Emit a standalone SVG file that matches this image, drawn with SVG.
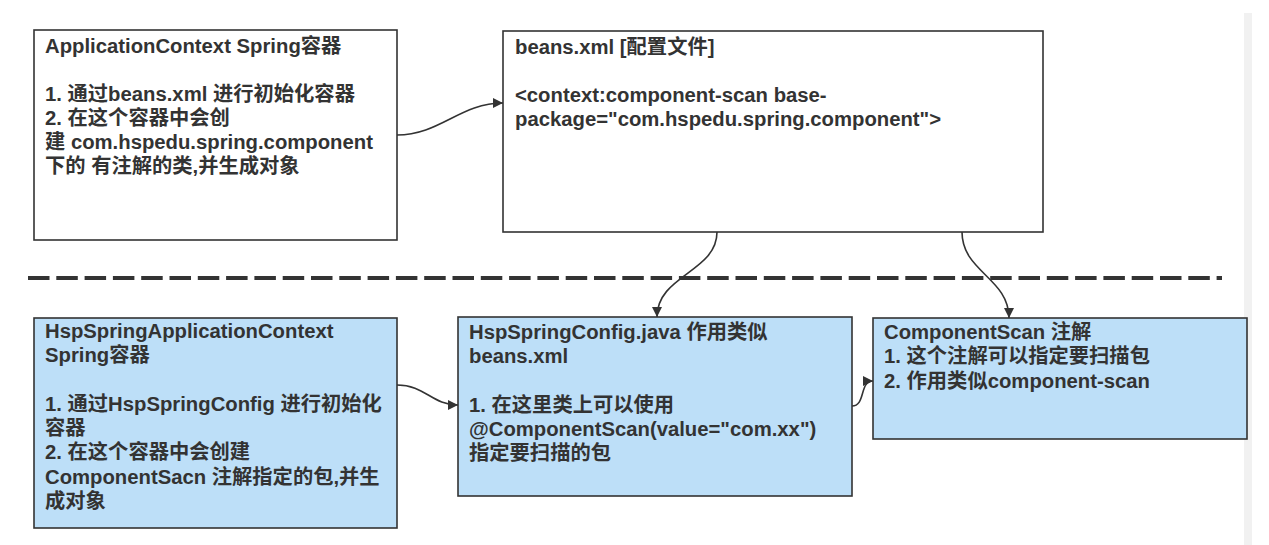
<svg xmlns="http://www.w3.org/2000/svg" width="1269" height="545" viewBox="0 0 1269 545">
<style>
.box{stroke:#333;stroke-width:1.6}
.w{fill:#fff}
.b{fill:#bddff8}
text{font-family:"Liberation Sans","Noto Sans CJK SC",sans-serif;font-weight:bold;font-size:20.3px;fill:#333}
.conn{fill:none;stroke:#333;stroke-width:1.6}
</style>
<defs>
<marker id="arr" viewBox="0 0 10 10" refX="10" refY="5" markerWidth="10" markerHeight="10" markerUnits="userSpaceOnUse" orient="auto">
<path d="M0,0 L10,5 L0,10 Z" fill="#333"/>
</marker>
</defs>
<rect width="1269" height="545" fill="#fff"/>
<rect x="1244" y="13" width="8" height="532" fill="#f1f1f1"/>
<line x1="28" y1="278" x2="1222" y2="278" stroke="#333" stroke-width="4" stroke-dasharray="21.5 6.8"/>
<g id="n1">
<rect class="box w" x="34" y="30" width="363" height="210"/>
<text x="45" y="53">ApplicationContext Spring容器</text>
<text x="45" y="101">1. 通过beans.xml 进行初始化容器</text>
<text x="45" y="125">2. 在这个容器中会创</text>
<text x="45" y="149">建 com.hspedu.spring.component</text>
<text x="45" y="173">下的 有注解的类,并生成对象</text>
</g>
<g id="n2">
<rect class="box w" x="503" y="31" width="540" height="201"/>
<text x="515" y="54">beans.xml [配置文件]</text>
<text x="515" y="102">&lt;context:component-scan base-</text>
<text x="515" y="126">package="com.hspedu.spring.component"&gt;</text>
</g>
<g id="n3">
<rect class="box b" x="34" y="318" width="363" height="210"/>
<text x="45" y="338">HspSpringApplicationContext</text>
<text x="45" y="362">Spring容器</text>
<text x="45" y="411">1. 通过HspSpringConfig 进行初始化</text>
<text x="45" y="435">容器</text>
<text x="45" y="459">2. 在这个容器中会创建</text>
<text x="45" y="484">ComponentSacn 注解指定的包,并生</text>
<text x="45" y="508">成对象</text>
</g>
<g id="n4">
<rect class="box b" x="458" y="317" width="394" height="179"/>
<text x="469" y="339">HspSpringConfig.java 作用类似</text>
<text x="469" y="363">beans.xml</text>
<text x="469" y="412">1. 在这里类上可以使用</text>
<text x="469" y="436">@ComponentScan(value="com.xx")</text>
<text x="469" y="460">指定要扫描的包</text>
</g>
<g id="n5">
<rect class="box b" x="873" y="318" width="374" height="121"/>
<text x="884" y="339">ComponentScan 注解</text>
<text x="884" y="363">1. 这个注解可以指定要扫描包</text>
<text x="884" y="388">2. 作用类似component-scan</text>
</g>
<g id="connectors">
<path class="conn" marker-end="url(#arr)" d="M397,135 C440,135 460,103 503,103"/>
<path class="conn" marker-end="url(#arr)" d="M397,385 C425,385 432,405 458,405"/>
<path class="conn" marker-end="url(#arr)" d="M717,232 C717,272 657,275 657,317"/>
<path class="conn" marker-end="url(#arr)" d="M962,232 C962,272 1009,278 1009,318"/>
<path class="conn" marker-end="url(#arr)" d="M852,406 C866,406 859,381 873,381"/>
</g>
</svg>
